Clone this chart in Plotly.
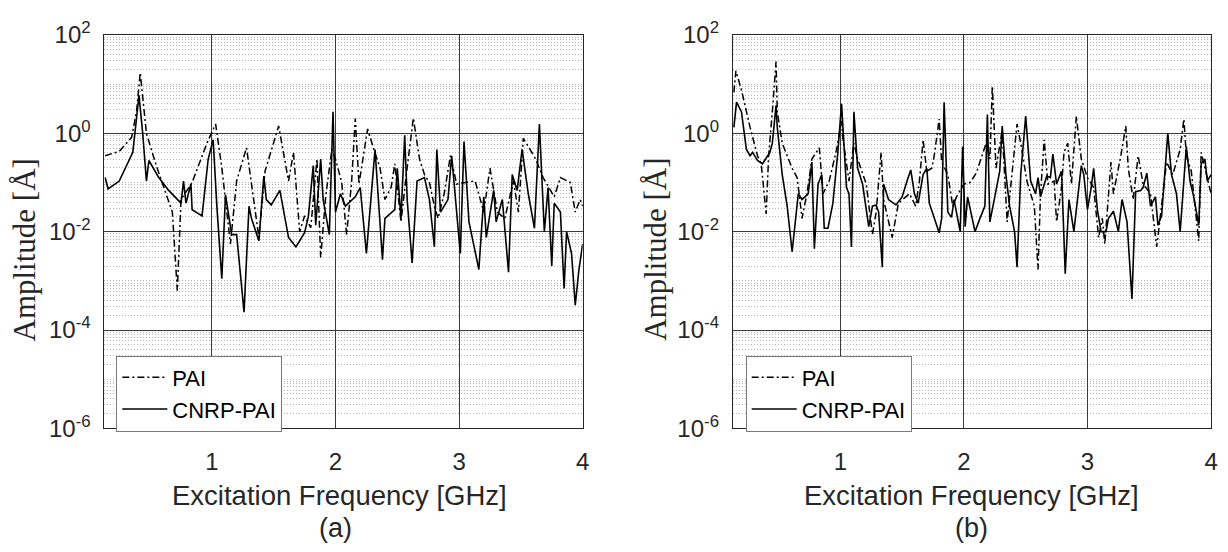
import plotly.graph_objects as go

# ---------------- data ----------------
f_pai_a = [0.136, 0.25, 0.35, 0.39, 0.42, 0.45, 0.47, 0.55, 0.63, 0.68, 0.72, 0.75, 0.84, 0.96, 1.03,
           1.08, 1.15, 1.20, 1.28, 1.38, 1.43, 1.54, 1.62, 1.66, 1.71, 1.75, 1.80, 1.85, 1.88, 1.92,
           1.97, 2.00, 2.05, 2.09, 2.13, 2.16, 2.19, 2.26, 2.31, 2.36, 2.40, 2.45, 2.48, 2.53, 2.58,
           2.63, 2.68, 2.72, 2.76, 2.80, 2.83, 2.88, 2.93, 2.98, 3.05, 3.13, 3.20, 3.25, 3.31, 3.37,
           3.44, 3.48, 3.52, 3.57, 3.62, 3.68, 3.77, 3.82, 3.90, 3.94, 3.98, 4.00]
a_pai_a = [0.35, 0.43, 0.83, 2.75, 17.0, 3.0, 1.0, 0.22, 0.06, 0.025, 0.00063, 0.045, 0.1, 0.63, 1.55,
           0.2, 0.0056, 0.107, 0.51, 0.0076, 0.17, 1.41, 0.107, 0.41, 0.01, 0.021, 0.012, 0.3, 0.003, 0.05,
           0.47, 0.3, 0.1, 0.0087, 0.1, 2.0, 0.093, 1.23, 0.47, 0.2, 0.045, 0.08, 0.24, 0.0158, 0.2,
           2.04, 0.3, 0.145, 0.1, 0.033, 0.0186, 0.06, 0.35, 0.093, 0.1, 0.107, 0.025, 0.195, 0.025, 0.0186,
           0.107, 0.025, 0.79, 0.47, 0.3, 0.126, 0.051, 0.126, 0.1, 0.025, 0.045, 0.033]

f_cnrp_a = [0.136, 0.16, 0.25, 0.36, 0.41, 0.44, 0.47, 0.49, 0.57, 0.65, 0.75, 0.77, 0.79, 0.83, 0.84,
            0.92, 0.97, 1.01, 1.04, 1.08, 1.11, 1.13, 1.16, 1.20, 1.26, 1.30, 1.32, 1.38, 1.42, 1.44,
            1.48, 1.55, 1.62, 1.68, 1.75, 1.78, 1.82, 1.84, 1.88, 1.90, 1.95, 1.98, 2.00, 2.04, 2.08,
            2.16, 2.20, 2.25, 2.32, 2.38, 2.40, 2.48, 2.50, 2.53, 2.56, 2.58, 2.62, 2.66, 2.72, 2.76,
            2.80, 2.82, 2.85, 2.91, 2.94, 3.01, 3.04, 3.08, 3.16, 3.20, 3.22, 3.28, 3.30, 3.35, 3.40,
            3.43, 3.47, 3.51, 3.56, 3.61, 3.65, 3.69, 3.72, 3.75, 3.77, 3.82, 3.85, 3.87, 3.91, 3.94,
            3.97, 4.00]
a_cnrp_a = [0.126, 0.074, 0.107, 0.41, 5.9, 1.0, 0.107, 0.28, 0.126, 0.069, 0.038, 0.107, 0.038, 0.093, 0.028,
            0.021, 0.30, 0.74, 0.033, 0.0011, 0.056, 0.025, 0.0087, 0.0087, 0.00023, 0.033, 0.0186, 0.0065, 0.135, 0.045,
            0.035, 0.069, 0.0076, 0.0049, 0.0095, 0.02, 0.22, 0.0135, 0.30, 0.045, 0.0087, 2.75, 0.025, 0.059, 0.033,
            0.051, 0.079, 0.0036, 0.47, 0.0027, 0.0186, 0.028, 0.195, 0.0186, 0.91, 0.045, 0.0023, 0.107, 0.126, 0.045,
            0.0049, 0.47, 0.025, 0.045, 0.35, 0.0036, 0.68, 0.0158, 0.0017, 0.051, 0.0076, 0.069, 0.0158, 0.045, 0.0015,
            0.145, 0.069, 0.47, 0.059, 0.0117, 1.55, 0.01, 0.079, 0.002, 0.038, 0.025, 0.0007, 0.01, 0.0036, 0.00032,
            0.0017, 0.0056]

f_pai_b = [0.139, 0.155, 0.20, 0.27, 0.33, 0.36, 0.40, 0.42, 0.45, 0.48, 0.49, 0.53, 0.61, 0.65, 0.67,
           0.69, 0.73, 0.77, 0.83, 0.86, 0.91, 0.97, 1.01, 1.02, 1.07, 1.11, 1.14, 1.21, 1.26, 1.29,
           1.33, 1.35, 1.42, 1.47, 1.56, 1.61, 1.64, 1.67, 1.70, 1.74, 1.76, 1.80, 1.82, 1.87, 1.91,
           1.94, 2.00, 2.05, 2.10, 2.14, 2.18, 2.21, 2.23, 2.26, 2.31, 2.35, 2.38, 2.43, 2.46, 2.51,
           2.57, 2.60, 2.62, 2.65, 2.68, 2.73, 2.75, 2.79, 2.81, 2.84, 2.87, 2.91, 2.95, 3.00, 3.05,
           3.09, 3.12, 3.14, 3.19, 3.21, 3.27, 3.31, 3.33, 3.37, 3.41, 3.45, 3.51, 3.56, 3.59, 3.64,
           3.69, 3.75, 3.78, 3.80, 3.84, 3.90, 3.92, 3.96, 4.00]
a_pai_b = [6.8, 18.6, 7.6, 1.32, 0.35, 0.24, 0.023, 0.35, 2.75, 28.8, 2.75, 0.63, 0.195, 0.126, 0.051,
           0.0186, 0.059, 0.30, 0.51, 0.059, 0.107, 0.47, 1.78, 0.83, 0.107, 0.63, 0.30, 0.093, 0.0087, 0.025,
           0.41, 0.045, 0.0076, 0.038, 0.059, 0.033, 0.107, 0.74, 0.17, 0.195, 0.35, 1.95, 0.26, 0.145, 0.033,
           0.051, 0.093, 0.1, 0.155, 0.30, 0.63, 0.30, 9.1, 0.195, 1.15, 0.0158, 0.079, 1.55, 0.63, 0.107,
           0.033, 0.0017, 0.059, 0.74, 0.093, 0.107, 0.0158, 0.079, 0.41, 0.63, 0.093, 2.24, 0.30, 0.126, 0.079,
           0.0076, 0.0186, 0.0056, 0.26, 0.059, 0.35, 1.41, 0.195, 0.045, 0.35, 0.093, 0.059, 0.0049, 0.021, 0.26,
           0.145, 0.47, 1.95, 0.35, 0.17, 0.0065, 0.41, 0.145, 0.059]

f_cnrp_b = [0.139, 0.16, 0.20, 0.24, 0.27, 0.29, 0.33, 0.37, 0.43, 0.45, 0.48, 0.49, 0.53, 0.57, 0.61,
            0.66, 0.69, 0.74, 0.77, 0.79, 0.82, 0.85, 0.87, 0.90, 0.94, 0.98, 1.01, 1.05, 1.07, 1.09,
            1.11, 1.14, 1.18, 1.23, 1.26, 1.29, 1.31, 1.34, 1.35, 1.39, 1.45, 1.50, 1.54, 1.57, 1.60,
            1.63, 1.67, 1.70, 1.72, 1.76, 1.80, 1.82, 1.84, 1.87, 1.90, 1.92, 1.97, 1.99, 2.01, 2.03,
            2.09, 2.13, 2.17, 2.19, 2.21, 2.25, 2.29, 2.31, 2.34, 2.37, 2.41, 2.43, 2.46, 2.50, 2.54,
            2.58, 2.60, 2.62, 2.67, 2.70, 2.72, 2.75, 2.79, 2.82, 2.85, 2.89, 2.95, 2.97, 3.00, 3.03,
            3.05, 3.08, 3.11, 3.15, 3.17, 3.21, 3.25, 3.28, 3.32, 3.36, 3.39, 3.43, 3.45, 3.48, 3.51,
            3.55, 3.57, 3.60, 3.65, 3.68, 3.72, 3.75, 3.78, 3.80, 3.83, 3.86, 3.90, 3.92, 3.95, 3.97,
            4.00]
a_cnrp_b = [1.32, 4.3, 2.75, 0.47, 0.35, 0.41, 0.28, 0.24, 0.41, 0.63, 3.7, 1.32, 0.145, 0.033, 0.0039,
            0.059, 0.045, 0.059, 0.26, 0.0045, 0.093, 0.145, 0.0117, 0.0117, 0.038, 0.41, 4.0, 0.079, 0.059, 0.0049,
            2.75, 0.195, 0.093, 0.0126, 0.033, 0.035, 0.025, 0.0019, 0.093, 0.045, 0.035, 0.051, 0.107, 0.18, 0.059,
            0.038, 0.145, 0.195, 0.038, 0.0186, 0.0095, 0.0186, 4.3, 0.025, 0.0195, 0.045, 0.01, 0.54, 0.0126, 0.051,
            0.01, 0.0186, 0.033, 2.4, 0.0158, 0.051, 0.17, 1.41, 0.145, 0.033, 0.01, 0.0019, 0.145, 2.24, 0.107,
            0.059, 0.126, 0.051, 0.135, 0.126, 0.38, 0.093, 0.17, 0.0014, 0.045, 0.01, 0.22, 0.145, 0.028, 0.079,
            0.195, 0.028, 0.01, 0.01, 0.0186, 0.026, 0.01, 0.045, 0.0158, 0.00043, 0.065, 0.069, 0.079, 0.155, 0.033,
            0.051, 0.0135, 0.021, 1.0, 0.145, 0.059, 0.01, 0.145, 0.54, 0.107, 0.051, 0.0135, 0.24, 0.30, 0.107,
            0.145]

x_ticks = [1, 2, 3, 4]
x_ticktext = ["1", "2", "3", "4"]
y_ticks = [1e-6, 1e-4, 1e-2, 1, 100]
y_ticktext = ["10<sup>-6</sup>", "10<sup>-4</sup>", "10<sup>-2</sup>", "10<sup>0</sup>", "10<sup>2</sup>"]
series_names = ["PAI", "CNRP-PAI"]
panel_labels = ["(a)", "(b)"]
x_title = "Excitation Frequency [GHz]"
y_title = "Amplitude [Å]"

# ---------------- styling ----------------
W, H = 1228, 552
TXT = "#262626"
SANS = "Liberation Sans, Arial, sans-serif"
SERIF = "Liberation Serif, Times New Roman, serif"
DASHDOT = "7px,3px,2px,3px"

minor_vals = []
for e in range(-6, 2):
    for m in range(2, 10):
        minor_vals.append(m * 10.0 ** e)
for e in (-5, -3, -1, 1):
    minor_vals.append(10.0 ** e)

fig = go.Figure()

panels = [
    (f_pai_a, a_pai_a, f_cnrp_a, a_cnrp_a, "x", "y", "legend"),
    (f_pai_b, a_pai_b, f_cnrp_b, a_cnrp_b, "x2", "y2", "legend2"),
]
for fp, ap, fc, ac, xa, ya, lg in panels:
    fig.add_trace(go.Scatter(x=fp, y=ap, mode="lines", name=series_names[0],
                             line=dict(color="black", width=1.5, dash=DASHDOT),
                             xaxis=xa, yaxis=ya, legend=lg))
    fig.add_trace(go.Scatter(x=fc, y=ac, mode="lines", name=series_names[1],
                             line=dict(color="black", width=1.6),
                             xaxis=xa, yaxis=ya, legend=lg))

def xaxis(domain, anchor):
    return dict(domain=domain, anchor=anchor, range=[0.13, 4], tickmode="array",
                tickvals=x_ticks, ticktext=x_ticktext, showgrid=True, gridcolor="#3a3a3a",
                gridwidth=1, showline=True, linecolor="#262626", linewidth=1, mirror=True,
                zeroline=False, ticks="", ticklabelstandoff=12,
                tickfont=dict(family=SANS, size=24, color=TXT))

def yaxis(domain, anchor):
    return dict(domain=domain, anchor=anchor, type="log", range=[-6, 2], tickmode="array",
                tickvals=y_ticks, ticktext=y_ticktext, showgrid=True, gridcolor="#3a3a3a",
                gridwidth=1, showline=True, linecolor="#262626", linewidth=1, mirror=True,
                zeroline=False, ticks="", ticklabelstandoff=8,
                minor=dict(tickmode="array", tickvals=minor_vals, showgrid=True,
                           gridcolor="#b4b4b4", griddash="1px,2px", gridwidth=1, ticks=""),
                tickfont=dict(family=SANS, size=24, color=TXT))

ydom = [1 - 435 / H, 1 - 19 / H]

legend_common = dict(xanchor="left", yanchor="top", bgcolor="white", bordercolor="#7a7a7a",
                     borderwidth=1, font=dict(family=SANS, size=22, color="black"),
                     itemwidth=45, tracegroupgap=0)

fig.update_layout(
    width=W, height=H, margin=dict(l=0, r=0, t=0, b=0),
    paper_bgcolor="white", plot_bgcolor="white",
    xaxis=xaxis([105 / W, 586 / W], "y"),
    yaxis=yaxis(ydom, "x"),
    xaxis2=xaxis([737 / W, 1218 / W], "y2"),
    yaxis2=yaxis(ydom, "x2"),
    legend=dict(x=117 / W, y=1 - 358 / H, **legend_common),
    legend2=dict(x=750 / W, y=1 - 358 / H, **legend_common),
)

annotations = []
for cx, ycx, lab in [(341.5, 25, panel_labels[0]), (977.5, 659, panel_labels[1])]:
    annotations.append(dict(text=x_title, x=cx / W, y=1 - 506 / H, xref="paper", yref="paper",
                            xanchor="center", yanchor="middle", showarrow=False,
                            font=dict(family=SANS, size=27.5, color=TXT)))
    annotations.append(dict(text=lab, x=(cx - 4 if lab == "(a)" else cx) / W, y=1 - 540 / H,
                            xref="paper", yref="paper", xanchor="center", yanchor="middle",
                            showarrow=False, font=dict(family=SANS, size=27, color=TXT)))
    annotations.append(dict(text=y_title, x=ycx / W, y=1 - 246 / H, xref="paper", yref="paper",
                            xanchor="center", yanchor="middle", textangle=-90, showarrow=False,
                            font=dict(family=SERIF, size=31, color=TXT)))
fig.update_layout(annotations=annotations)

fig.write_html("out.html")
